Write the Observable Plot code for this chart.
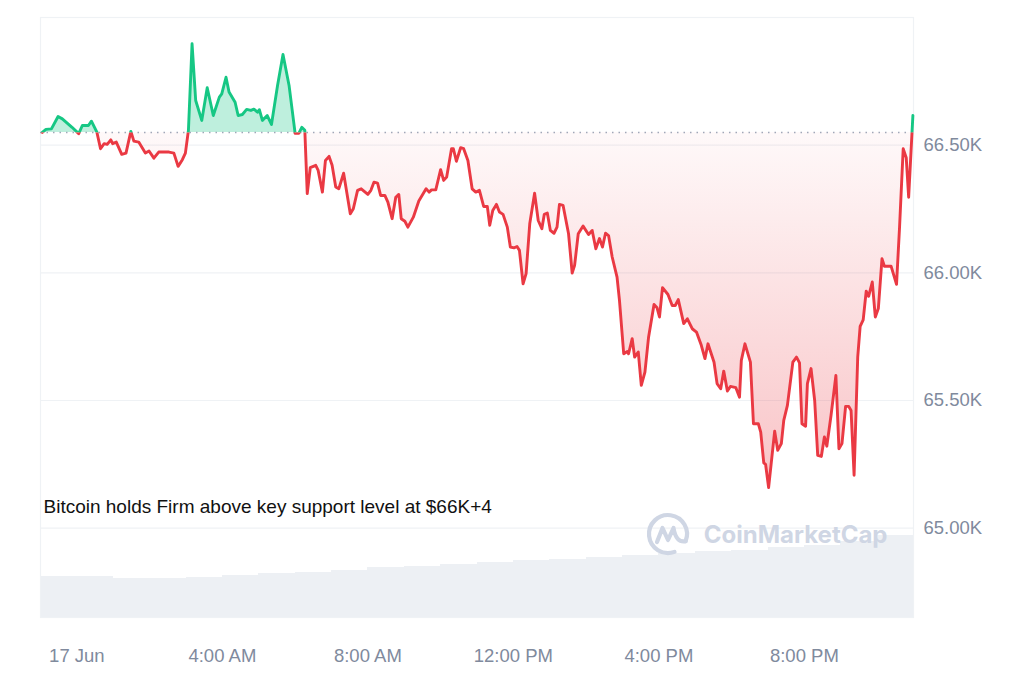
<!DOCTYPE html>
<html>
<head>
<meta charset="utf-8">
<script src="https://cdn.jsdelivr.net/npm/d3@7"></script>
<script src="https://cdn.jsdelivr.net/npm/@observablehq/plot@0.6"></script>
<style>
  html, body { margin: 0; padding: 0; background: #fff; }
  #wrap { position: relative; width: 1024px; height: 683px; overflow: hidden; }
  #wrap svg { position: absolute; left: 0; top: 0; }
</style>
</head>
<body>
<div id="wrap"></div>
<script>
// ---- data ----
// minutes relative to 17 Jun 00:00
const minutes = [-57,-51,-42,-31,-24,-8,3,9,19,24,33,39,45,50,56,59,65,74,81,89,94,102,113,119,127,135,152,160,167,174,179,184,190,196,206,215,225,235,239,246,251,261,266,273,280,287,292,298,301,306,314,321,331,340,350,360,366,371,376,380,385,394,398,405,410,416,421,427,432,440,451,456,463,469,480,485,490,496,501,508,513,520,526,531,535,541,546,555,564,576,581,585,592,600,605,610,618,621,626,633,638,645,652,658,664,671,677,681,686,692,697,703,710,715,721,726,730,736,741,747,755,761,767,771,776,781,787,792,796,802,811,817,821,827,835,844,850,856,862,867,872,877,883,891,895,902,908,910,916,920,926,931,937,943,952,957,961,966,975,982,987,992,1001,1007,1015,1022,1030,1036,1041,1051,1056,1062,1067,1073,1078,1087,1093,1096,1102,1111,1116,1124,1128,1133,1136,1141,1151,1156,1162,1166,1172,1181,1187,1192,1196,1202,1205,1211,1217,1222,1228,1233,1237,1244,1252,1257,1262,1268,1273,1277,1282,1288,1292,1297,1302,1306,1312,1317,1322,1328,1332,1343,1352,1357,1363,1368,1372,1379];
const prices = [66550,66562,66564,66612,66603,66570,66545,66577,66577,66594,66551,66486,66506,66503,66521,66506,66512,66464,66469,66554,66516,66512,66469,66477,66449,66473,66473,66469,66417,66443,66469,66558,66897,66675,66597,66725,66616,66688,66701,66766,66708,66668,66616,66620,66640,66636,66641,66629,66639,66597,66616,66581,66734,66855,66734,66546,66546,66570,66558,66310,66412,66421,66401,66316,66440,66456,66421,66336,66329,66390,66231,66251,66323,66329,66307,66323,66355,66351,66303,66303,66277,66212,66296,66307,66212,66202,66179,66218,66281,66329,66316,66325,66325,66404,66362,66375,66486,66486,66437,66490,66486,66440,66329,66316,66323,66260,66260,66186,66244,66268,66238,66229,66179,66101,66098,66103,66088,65957,65997,66192,66312,66205,66173,66229,66234,66166,66155,66179,66268,66264,66153,65999,66029,66153,66183,66150,66166,66094,66134,66101,66155,66146,66062,65983,65892,65683,65692,65683,65742,65670,65690,65559,65611,65748,65876,65863,65827,65942,65915,65872,65872,65895,65801,65820,65781,65768,65716,65664,65722,65650,65566,65546,65615,65537,65555,65550,65513,65657,65722,65650,65409,65409,65376,65256,65250,65159,65380,65305,65331,65422,65481,65650,65670,65647,65409,65399,65566,65625,65500,65285,65281,65357,65321,65442,65598,65311,65331,65477,65477,65461,65207,65670,65790,65816,65928,65908,65964,65827,65860,66055,66026,66026,65955,66179,66486,66451,66296,66616];

// hourly volume bars (hour start relative to 17 Jun 00:00), in $B
const volumeHours = [-1,0,1,2,3,4,5,6,7,8,9,10,11,12,13,14,15,16,17,18,19,20,21,22];
const volumes = [20.5,20.5,19.75,19.75,20.25,21.25,22,22.75,23.75,25,25.75,26.5,27.5,28.5,29.25,30.25,31,32.25,33,33.75,35,36.25,38,41];

const xTickHours = [0,4,8,12,16,20];
const xTickLabels = ["17 Jun","4:00 AM","8:00 AM","12:00 PM","4:00 PM","8:00 PM"];
const yTicks = [65000,65500,66000,66500];
const gridTicks = [65000,65500,66000,66500,67000];
const annotation = "Bitcoin holds Firm above key support level at $66K+4";
const watermark = "CoinMarketCap";

// ---- build ----
const base0 = Date.UTC(2024,5,17);
const toDate = m => new Date(base0 + m*60000);
const data = minutes.map((m,i) => ({t: toDate(m), price: prices[i]}));
const basePrice = prices[0];
const xDomain = [toDate(-60), toDate(1380)];
const tickDates = xTickHours.map(h => toDate(h*60));
const volData = volumeHours.map((h,i) => ({t1: toDate(h*60), t2: toDate(h*60+60), v: volumes[i]}));

const W = 1024, H = 683;
const M = {left: 40, right: 111, top: 17, bottom: 66};
const yDomain = [64650, 67000];
const font = "'Liberation Sans', Arial, sans-serif";
const GREEN = "#16c784", RED = "#ea3943";

const volChart = Plot.plot({
  width: W, height: H,
  marginLeft: M.left, marginRight: M.right, marginTop: H - M.bottom - 100, marginBottom: M.bottom,
  style: {background: "transparent"},
  x: {type: "utc", domain: xDomain, axis: null},
  y: {domain: [0, 50], axis: null},
  marks: [
    Plot.rectY(volData, {x1: "t1", x2: "t2", y: "v", fill: "#edf0f4", inset: 0, shapeRendering: "crispEdges"})
  ]
});

const chart = Plot.plot({
  width: W, height: H,
  marginLeft: M.left, marginRight: M.right, marginTop: M.top, marginBottom: M.bottom,
  style: {background: "transparent", fontFamily: font, fontSize: "18.5px", color: "#808a9d"},
  x: {type: "utc", domain: xDomain, ticks: tickDates, tickFormat: (d) => xTickLabels[tickDates.findIndex(t => +t === +d)], tickSize: 0, tickPadding: 31, label: null},
  y: {domain: yDomain, ticks: yTicks, tickFormat: d => (d/1000).toFixed(2) + "K", axis: "right", tickSize: 0, tickPadding: 10, label: null},
  marks: [
    Plot.ruleY(gridTicks, {stroke: "#eff2f5", strokeWidth: 1.2}),
    Plot.frame({stroke: "#eff2f5", strokeWidth: 1.2}),
    Plot.areaY(data, {x: "t", y1: basePrice, y2: "price", fill: GREEN}),
    Plot.areaY(data, {x: "t", y1: basePrice, y2: "price", fill: RED}),
    Plot.ruleY([basePrice], {stroke: "#a0a7b8", strokeWidth: 1.5, strokeDasharray: "1.5 5"}),
    Plot.line(data, {x: "t", y: "price", stroke: GREEN, strokeWidth: 2.9, strokeLinejoin: "round", strokeLinecap: "round"}),
    Plot.line(data, {x: "t", y: "price", stroke: RED, strokeWidth: 2.9, strokeLinejoin: "round", strokeLinecap: "round"}),
    Plot.text([annotation], {frameAnchor: "bottom-left", textAnchor: "start", lineAnchor: "middle", dx: 3, dy: -111, fill: "#111", fontSize: 19, fontFamily: font}),
    Plot.text([watermark], {frameAnchor: "bottom-right", textAnchor: "end", lineAnchor: "middle", dx: -26, dy: -82, fill: "#cfd6e4", fontSize: 24, fontWeight: 700, fontFamily: "Inter, 'Open Sans', sans-serif"})
  ]
});

// ---- post-process: clipping and gradients ----
const innerH = H - M.top - M.bottom;
const yPix = v => M.top + (yDomain[1] - v) / (yDomain[1] - yDomain[0]) * innerH;
const by = yPix(basePrice);
const yMin = yPix(d3.min(prices));
const svg = d3.select(chart);
const defs = svg.insert("defs", ":first-child");
defs.append("clipPath").attr("id", "clipUp").append("rect").attr("x", 0).attr("y", -10).attr("width", W).attr("height", by + 10);
defs.append("clipPath").attr("id", "clipDown").append("rect").attr("x", 0).attr("y", by).attr("width", W).attr("height", H - by);
const rg = defs.append("linearGradient").attr("id", "redGrad").attr("gradientUnits", "userSpaceOnUse")
  .attr("x1", 0).attr("x2", 0).attr("y1", by).attr("y2", yMin);
rg.append("stop").attr("offset", 0).attr("stop-color", RED).attr("stop-opacity", 0.03);
rg.append("stop").attr("offset", 1).attr("stop-color", RED).attr("stop-opacity", 0.3);

const areas = svg.selectAll('g[aria-label="area"]').nodes();
const lines = svg.selectAll('g[aria-label="line"]').nodes();
d3.select(areas[0]).attr("clip-path", "url(#clipUp)").attr("fill-opacity", 0.28);
d3.select(areas[1]).attr("clip-path", "url(#clipDown)").attr("fill", "url(#redGrad)")
  .selectAll("path").attr("fill", "url(#redGrad)");
d3.select(lines[0]).attr("clip-path", "url(#clipUp)");
d3.select(lines[1]).attr("clip-path", "url(#clipDown)");

// watermark logo
const cx = W - M.right - 245, cy = H - M.bottom - 83;
const logo = svg.append("g").attr("transform", `translate(${cx},${cy})`)
  .attr("fill", "none").attr("stroke", "#cfd6e4").attr("stroke-width", 4.2)
  .attr("stroke-linecap", "round").attr("stroke-linejoin", "round");
logo.append("path").attr("d", "M 6.5 17.9 A 19 19 0 1 1 17.6 7.2");
logo.append("path").attr("d", "M -11 8 L -5.5 -6 L 0 6 L 5.5 -6 Q 8 9 17.6 7.2");

const wrap = document.getElementById("wrap");
wrap.appendChild(volChart);
wrap.appendChild(chart);
</script>
</body>
</html>
